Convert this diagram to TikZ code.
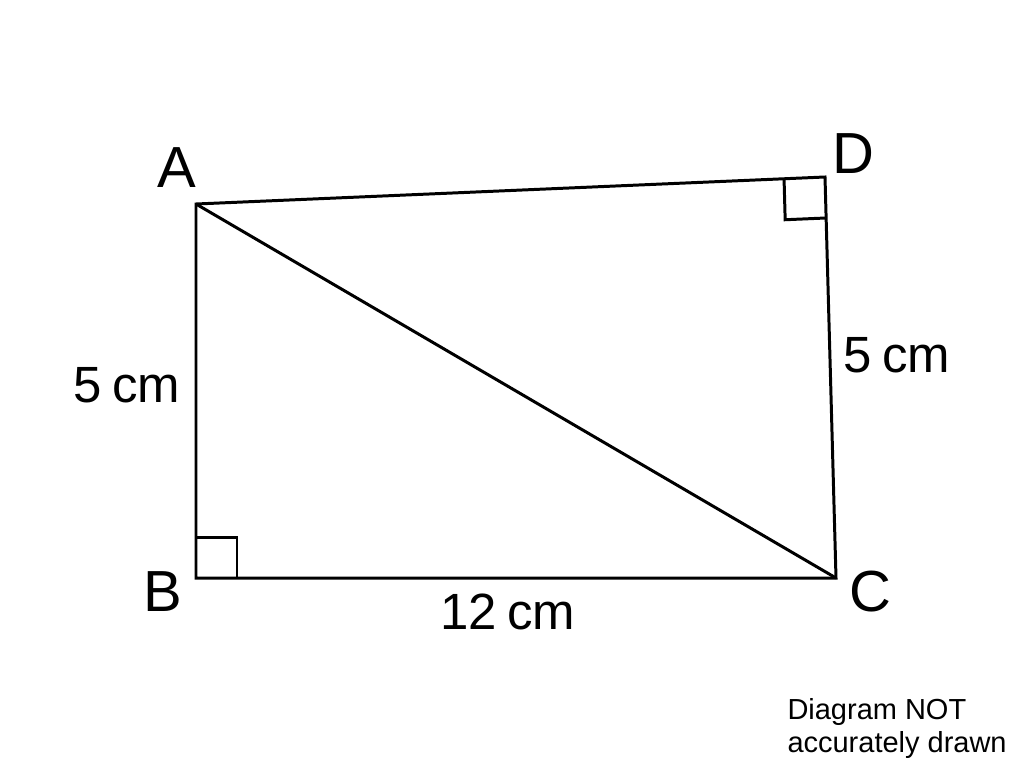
\documentclass[tikz,border=0pt]{standalone}
\usepackage{fontspec}
\setmainfont{Liberation Sans}
\usetikzlibrary{calc}

\begin{document}
\begin{tikzpicture}[x=0.02cm, y=-0.02cm, line width=1.7pt,
    vertex/.style={anchor=base, inner sep=0pt, font=\fontsize{33}{40}\selectfont},
    length/.style={anchor=base, inner sep=0pt, font=\fontsize{29}{35}\selectfont}]
    \useasboundingbox (0,0) rectangle (1024,765);

    \coordinate (A) at (196,204);
    \coordinate (B) at (196,578);
    \coordinate (C) at (836,578);
    \coordinate (D) at (825,177);

    \draw (A) -- (B) -- (C) -- (D) -- cycle;
    \draw (A) -- (C);

    % right angles at B and D
    \draw ($(B)!0.82cm!(A)$) -| ($(B)!0.82cm!(C)$);
    \coordinate (da) at ($(D)!0.82cm!(A)$);
    \coordinate (dc) at ($(D)!0.82cm!(C)$);
    \draw (da) -- ($(da)+(dc)-(D)$) -- (dc);

    \node[vertex] (lA) at (177,187) {A};
    \node[vertex] (lB) at (163,611) {B};
    \node[vertex] (lC) at (870,611) {C};
    \node[vertex] (lD) at (853,173) {D};

    \node[length] (ab) at (127,402) {5\hspace{0.2em}cm};
    \node[length] (dc) at (897,372) {5\hspace{0.2em}cm};
    \node[length] (bc) at (508,629) {12\hspace{0.2em}cm};

    \node[anchor=north west, inner sep=0pt, align=left,
        font=\fontsize{16.5}{19}\selectfont] (note) at (786,697)
        {Diagram NOT\\accurately drawn};
\end{tikzpicture}
\end{document}
